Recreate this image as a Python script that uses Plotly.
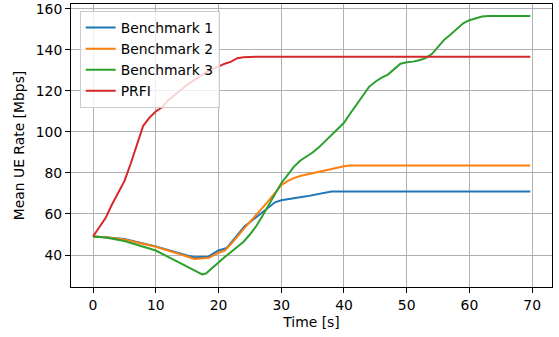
import plotly.graph_objects as go

# ---- data ----
t_b1 = [0, 2, 5, 10, 15, 16.2, 18.4, 19.9, 21.3, 22.3, 24.2, 25, 26, 27, 28, 29, 30, 31, 32, 33, 34, 35, 36, 37, 38, 69.7]
y_b1 = [49, 48.7, 47.8, 44.2, 39.8, 38.9, 39.2, 42.1, 43.4, 47, 54.2, 56, 58.5, 61, 63.5, 65.7, 66.7, 67.3, 67.8, 68.2, 68.6, 69.2, 69.8, 70.5, 71.0, 71.0]

t_b2 = [0, 2, 5, 10, 15, 16.2, 18.5, 19.9, 21, 22.1, 24.2, 25, 26, 27, 28, 29, 30, 31, 32, 33, 34, 35, 36, 37, 38, 39, 40, 41, 69.7]
y_b2 = [49, 48.6, 47.6, 44.0, 39.3, 38.1, 38.6, 41, 42.1, 45.7, 53.4, 56, 59.5, 63, 66.5, 70.5, 74, 76, 77.5, 78.5, 79.2, 79.8, 80.4, 81.2, 82, 82.8, 83.3, 83.6, 83.6]

t_b3 = [0, 2, 5, 10, 15, 16.5, 17.4, 18, 19, 20, 21, 22, 23, 24, 25, 26, 27, 28, 29, 30, 31, 32, 33, 34, 35, 36, 37, 38, 39, 40, 41, 42, 43, 44, 45, 46, 47, 48, 49, 50, 51, 52, 53, 54, 55, 56, 57, 58, 59, 60, 61, 62, 63, 69.7]
y_b3 = [49, 48.5, 46.8, 42.2, 34.3, 31.7, 30.5, 31, 33.5, 36.3, 39, 41.5, 44, 46.5, 50, 54, 59, 64.5, 70, 75, 79, 83, 86, 88, 90, 92.5, 95.5, 98.5, 101, 104.5, 109, 113.5, 118, 122, 124.5, 126.5, 128, 130.5, 133.3, 134, 134.3, 135, 136, 138, 141.5, 145, 147.5, 150.5, 153, 154.5, 155.5, 156.3, 156.6, 156.6]

t_prfi = [0, 1, 2, 3, 4, 5, 6, 7, 8, 9, 10, 11, 12, 13, 14, 15, 16, 17, 18, 19, 20, 21, 22, 23, 24, 25, 26, 69.7]
y_prfi = [49, 53.5, 58, 64.5, 70, 76, 84.5, 94, 103, 107, 110, 112, 115.5, 118, 120.5, 123, 125, 127, 129, 130.5, 132, 133.3, 134.3, 136, 136.4, 136.6, 136.7, 136.7]

names = ["Benchmark 1", "Benchmark 2", "Benchmark 3", "PRFI"]
colors = ["#1f77b4", "#ff7f0e", "#2ca02c", "#d62728"]
x_ticks = [0, 10, 20, 30, 40, 50, 60, 70]
y_ticks = [40, 60, 80, 100, 120, 140, 160]

fig = go.Figure()
for t, y, n, c in zip([t_b1, t_b2, t_b3, t_prfi], [y_b1, y_b2, y_b3, y_prfi], names, colors):
    fig.add_trace(go.Scatter(x=t, y=y, name=n, mode="lines",
                             line=dict(color=c, width=2)))

FS = 13.9
axis_common = dict(showline=True, linecolor="black", linewidth=1, mirror=True,
                   ticks="outside", ticklen=5, tickcolor="black", tickwidth=1,
                   showgrid=True, gridcolor="#b0b0b0", gridwidth=1, zeroline=False,
                   ticklabeloverflow="allow",
                   tickfont=dict(size=FS, color="black"))

fig.update_layout(
    width=559, height=337,
    margin=dict(l=71, r=7, t=1, b=50),
    plot_bgcolor="white", paper_bgcolor="white",
    font=dict(family="DejaVu Sans", size=FS, color="black"),
    xaxis=dict(range=[-3.51, 73.16], tickvals=x_ticks,
               title=dict(text="Time [s]", standoff=5, font=dict(size=FS)), **axis_common),
    yaxis=dict(range=[24.4, 162.4], tickvals=y_ticks,
               title=dict(text="Mean UE Rate [Mbps]", standoff=7, font=dict(size=FS)), **axis_common),
    legend=dict(x=0.018, y=0.975, xanchor="left", yanchor="top",
                bgcolor="rgba(255,255,255,0.8)", bordercolor="#cccccc", borderwidth=1,
                font=dict(size=FS), tracegroupgap=0, itemwidth=30),
    showlegend=True,
)

fig.write_html("out.html")
